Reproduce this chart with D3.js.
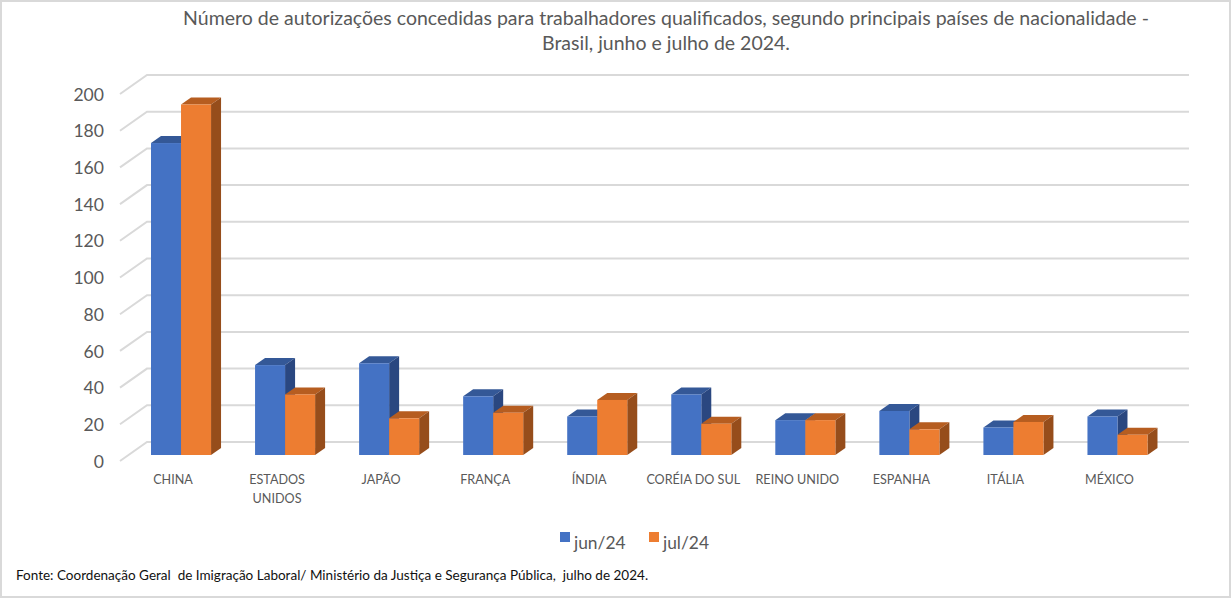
<!DOCTYPE html>
<html>
<head>
<meta charset="utf-8">
<script src="https://cdn.jsdelivr.net/npm/d3@7"></script>
<style>
html,body{margin:0;padding:0;background:#fff;overflow:hidden}
text{font-family:Lato,"Open Sans",sans-serif;white-space:pre}
</style>
</head>
<body>
<svg id="chart" width="1231" height="598"></svg>
<script>
var paises = ["CHINA","ESTADOS UNIDOS","JAPÃO","FRANÇA","ÍNDIA","CORÉIA DO SUL","REINO UNIDO","ESPANHA","ITÁLIA","MÉXICO"];
var jun24 = [170,49,50,32,21,33,19,24,15,21];
var jul24 = [191,33,20,23,30,17,19,14,18,11];
var seriesNames = ["jun/24","jul/24"];
var yTicks = [0,20,40,60,80,100,120,140,160,180,200];
var titleLines = ["Número de autorizações concedidas para trabalhadores qualificados, segundo principais países de nacionalidade -","Brasil, junho e julho de 2024."];
var fonte = "Fonte: Coordenação Geral  de Imigração Laboral/ Ministério da Justiça e Segurança Pública,  julho de 2024.";

var colors = {
    jun:{front:"#4472c4",top:"#345897",side:"#2a4780"},
    jul:{front:"#ed7d31",top:"#b65d20",side:"#964d1b"}
};
var textColor = "#595959";

var svg = d3.select("#chart");

//frame around the image
svg.append("rect").attr("width",1231).attr("height",598).attr("fill","#d9d9d9");
svg.append("rect").attr("x",2).attr("y",2).attr("width",1227).attr("height",594).attr("fill","#fff");

//title
svg.append("g").selectAll("text")
    .data(titleLines)
    .enter()
    .append("text")
    .attr("x",666)
    .attr("y",function(d,i){return 25+i*25})
    .attr("text-anchor","middle")
    .attr("font-size",19.5)
    .attr("fill",textColor)
    .text(function(d){return d});

//bars sit on the floor of the box, the walls are shifted back
var yScale = d3.scaleLinear().domain([0,200]).range([455,88]);
var xScale = d3.scaleBand().domain(paises).range([129,1169.5])
    .paddingInner(0.423).paddingOuter(0.2115);
var xInner = d3.scaleBand().domain(seriesNames).range([0,xScale.bandwidth()]);

var wall = {dx:27,dy:-19,front:6,right:1189};
var barDepth = {dx:10,dy:-7};

//gridlines: side wall and back wall
var grid = svg.append("g").attr("stroke","#d9d9d9").attr("stroke-width",2).attr("fill","none");
grid.selectAll("path")
    .data(yTicks)
    .enter()
    .append("path")
    .attr("d",function(d)
    {
        var y = yScale(d)+wall.front;
        var backX = 120+wall.dx;
        return "M120,"+y+"L"+backX+","+(y+wall.dy)+"H"+wall.right;
    });

//y labels
var yAxis = d3.axisLeft(yScale).tickValues(yTicks).tickSize(0).tickPadding(0);
var yG = svg.append("g").attr("transform","translate(104,6.5)").call(yAxis);
yG.select(".domain").remove();
yG.selectAll("text")
    .attr("font-size",17.6)
    .attr("fill",textColor)
    .attr("dy","0.32em")
    .attr("style","font-family:Lato,sans-serif");

var drawSeries = function(values,name,color)
{
    var g = svg.append("g").attr("class","serie");
    var bars = g.selectAll("g")
        .data(values)
        .enter()
        .append("g");

    var left = function(d,i){return xScale(paises[i])+xInner(name)};
    var w = xInner.bandwidth();

    bars.append("path")
        .attr("fill",color.top)
        .attr("d",function(d,i)
        {
            var x = left(d,i), y = yScale(d);
            return "M"+x+","+y+"l"+barDepth.dx+","+barDepth.dy+"h"+w+"l"+(-barDepth.dx)+","+(-barDepth.dy)+"Z";
        });
    bars.append("path")
        .attr("fill",color.side)
        .attr("d",function(d,i)
        {
            var x = left(d,i)+w, y = yScale(d);
            return "M"+x+","+y+"l"+barDepth.dx+","+barDepth.dy+"V"+(yScale(0)+barDepth.dy)+"l"+(-barDepth.dx)+","+(-barDepth.dy)+"Z";
        });
    bars.append("rect")
        .attr("fill",color.front)
        .attr("x",left)
        .attr("y",function(d){return yScale(d)})
        .attr("width",w)
        .attr("height",function(d){return yScale(0)-yScale(d)});
}

drawSeries(jun24,"jun/24",colors.jun);
drawSeries(jul24,"jul/24",colors.jul);

//category labels, wrapped only for ESTADOS UNIDOS
var labels = svg.append("g").selectAll("text")
    .data(paises)
    .enter()
    .append("text")
    .attr("text-anchor","middle")
    .attr("font-size",12.6)
    .attr("fill",textColor)
    .attr("y",484);
labels.each(function(d)
{
    var cx = xScale(d)+xScale.bandwidth()/2-8;
    var lines = d=="ESTADOS UNIDOS" ? d.split(" ") : [d];
    d3.select(this).selectAll("tspan")
        .data(lines)
        .enter()
        .append("tspan")
        .attr("x",cx)
        .attr("dy",function(l,i){return i?18.5:0})
        .text(function(l){return l});
});

//legend
var legend = svg.append("g").selectAll("g")
    .data(seriesNames)
    .enter()
    .append("g")
    .attr("transform",function(d,i){return "translate("+(560+i*89)+",532)"});
legend.append("rect")
    .attr("width",10)
    .attr("height",10)
    .attr("fill",function(d,i){return i?colors.jul.front:colors.jun.front});
legend.append("text")
    .attr("x",14)
    .attr("y",17)
    .attr("font-size",17.4)
    .attr("fill",textColor)
    .text(function(d){return d});

//source
svg.append("text")
    .attr("x",16)
    .attr("y",580)
    .attr("font-size",13.53)
    .attr("fill","#111")
    .text(fonte);
</script>
</body>
</html>
